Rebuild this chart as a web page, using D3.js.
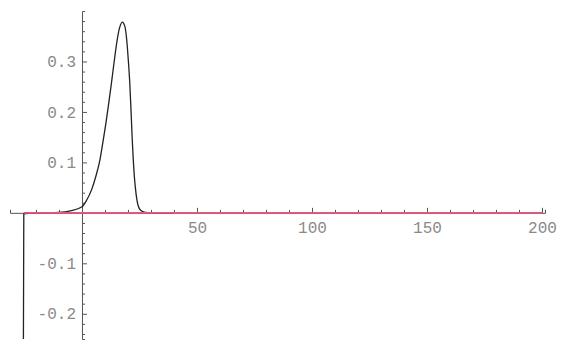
<!DOCTYPE html>
<meta charset="utf-8">
<script src="https://cdn.jsdelivr.net/npm/d3@7"></script>
<style>
  body { margin: 0; background: #fff; }
  .axis text { font-family: "Liberation Mono", monospace; font-size: 16px; fill: #8a8a8a; }
  .axis path, .axis line { stroke: #555; }
</style>
<svg></svg>
<script>
    // black curve
    var curveX = [-25.5, -25.3, -20, -10, -5, 0, 2, 4.2, 6, 7.8, 9.2, 10.4, 11.5, 12.8, 14, 15.2, 16.3, 17.5, 18.6, 19.4, 20.1, 20.8, 21.3, 21.8, 22.3, 22.8, 23.3, 23.8, 24.3, 25.5, 27.4, 30, 40];
    var curveY = [-0.30, -0.002, 0, 0.001, 0.004, 0.012, 0.025, 0.046, 0.072, 0.105, 0.143, 0.178, 0.213, 0.257, 0.300, 0.340, 0.366, 0.378, 0.370, 0.345, 0.305, 0.255, 0.205, 0.150, 0.105, 0.070, 0.046, 0.028, 0.016, 0.005, 0.001, 0, 0];
    // pink line
    var pinkX = [-25.3, 200];
    var pinkY = [0, 0];

    var xMajor = [50, 100, 150, 200];
    var xMinor = [-20, -10, 10, 20, 30, 40, 60, 70, 80, 90, 110, 120, 130, 140, 160, 170, 180, 190];
    var yMajor = [-0.2, -0.1, 0.1, 0.2, 0.3];
    var yMinor = [-0.24, -0.22, -0.18, -0.16, -0.14, -0.12, -0.08, -0.06, -0.04, -0.02,
                  0.02, 0.04, 0.06, 0.08, 0.12, 0.14, 0.16, 0.18, 0.22, 0.24, 0.26, 0.28, 0.32, 0.34, 0.36, 0.38];

    var svg = d3.select("svg").attr('width', 562).attr('height', 345);

    var x = d3.scaleLinear().domain([-31.3, 201.3]).range([10, 545]);
    var y = d3.scaleLinear().domain([-0.25, 0.4]).range([339, 11]);

    // x axis: ticks point up
    svg.append('g')
        .attr('class', 'axis')
        .attr('transform', 'translate(0,' + y(0) + ')')
        .call(d3.axisBottom(x).tickValues(xMinor).tickSize(-3).tickFormat(''));
    svg.append('g')
        .attr('class', 'axis')
        .attr('transform', 'translate(0,' + y(0) + ')')
        .call(d3.axisBottom(x).tickValues(xMajor).tickSizeInner(-5).tickSizeOuter(0).tickPadding(9).tickFormat(d3.format('d')))
        .select('.domain').remove();

    // y axis: ticks point right
    var fmt = d => (d < 0 ? '-' : '') + Math.abs(d).toFixed(1);
    svg.append('g')
        .attr('class', 'axis')
        .attr('transform', 'translate(' + x(0) + ',0)')
        .call(d3.axisLeft(y).tickValues(yMinor).tickSize(-3).tickFormat(''));
    svg.append('g')
        .attr('class', 'axis')
        .attr('transform', 'translate(' + x(0) + ',0)')
        .call(d3.axisLeft(y).tickValues(yMajor).tickSizeInner(-5).tickSizeOuter(0).tickPadding(6).tickFormat(fmt))
        .select('.domain').remove();

    svg.selectAll('.axis .domain').attr('stroke', '#555');

    svg.append('clipPath').attr('id', 'clip')
        .append('rect').attr('x', 0).attr('y', y(0.4)).attr('width', 562).attr('height', y(-0.25) - y(0.4));

    var line = d3.line()
        .x(d => x(d[0]))
        .y(d => y(d[1]))
        .curve(d3.curveMonotoneX);

    svg.append('path')
        .datum(curveX.map((v, i) => [v, curveY[i]]))
        .attr('clip-path', 'url(#clip)')
        .attr('fill', 'none')
        .attr('stroke', '#222')
        .attr('stroke-width', 1.3)
        .attr('d', line);

    svg.append('path')
        .datum(pinkX.map((v, i) => [v, pinkY[i]]))
        .attr('fill', 'none')
        .attr('stroke', '#e8587c')
        .attr('stroke-width', 1.6)
        .attr('d', d3.line().x(d => x(d[0])).y(d => y(d[1])));
</script>
